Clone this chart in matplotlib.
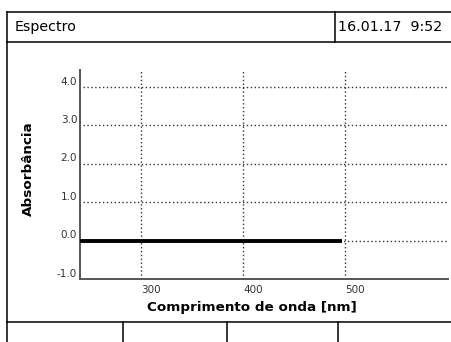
import matplotlib
matplotlib.use('Agg')
import matplotlib.pyplot as plt
from matplotlib.lines import Line2D
from matplotlib.transforms import ScaledTranslation

# data
wavelengths = [240, 497]
absorbance = [0.0, 0.0]
x_ticks = [300, 400, 500]
y_ticks = [-1.0, 0.0, 1.0, 2.0, 3.0, 4.0]
y_tick_labels = ['-1.0', '0.0', '1.0', '2.0', '3.0', '4.0']
title_text = 'Espectro'
date_text = '16.01.17  9:52'
x_label = 'Comprimento de onda [nm]'
y_label = 'Absorbância'

W, H = 451, 342
fig = plt.figure(figsize=(W/100, H/100), dpi=100)

def fx(px):
	return px/W
def fy(py):
	return 1 - py/H

# screen frame
def frame_line(x0, y0, x1, y1):
	fig.add_artist(Line2D([fx(x0), fx(x1)], [fy(y0), fy(y1)], transform=fig.transFigure, color='black', lw=1.1))

frame_line(7, 12, 451, 12)
frame_line(7, 42, 451, 42)
frame_line(7, 12, 7, 342)
frame_line(335, 12, 335, 42)
frame_line(7, 322, 451, 322)
for xb in [123, 227, 338]:
	frame_line(xb, 322, xb, 342)

fig.text(fx(15), fy(27), title_text, fontsize=10.3, va='center', ha='left')
fig.text(fx(338), fy(27), date_text, fontsize=10.3, va='center', ha='left')

ax = fig.add_axes([fx(80), fy(279), fx(448)-fx(80), fy(70)-fy(279)])
ax.set_xlim(240, 601)
ax.set_ylim(-1, 4.44)

for spine in ['top', 'right']:
	ax.spines[spine].set_visible(False)
for spine in ['left', 'bottom']:
	ax.spines[spine].set_color('#555555')
	ax.spines[spine].set_linewidth(1.4)

for yv in y_ticks[1:]:
	ax.axhline(yv, xmin=0.008, color='#333333', lw=1.0, ls=(0, (1, 1.8)), zorder=1)
for xv in x_ticks:
	ax.axvline(xv, color='#333333', lw=1.0, ls=(0, (1, 1.8)), zorder=1)

ax.plot(wavelengths, absorbance, color='black', lw=2.8, solid_capstyle='butt', zorder=3)

ax.set_xticks(x_ticks)
ax.set_xticklabels([str(v) for v in x_ticks])
ax.set_yticks(y_ticks)
ax.set_yticklabels(y_tick_labels)
ax.tick_params(length=0, labelsize=7.5, colors='#333333')
ax.tick_params(axis='y', pad=2)
ax.tick_params(axis='x', pad=4)

for label in ax.get_xticklabels():
	label.set_horizontalalignment('left')
up = ScaledTranslation(0, 4.5/72, fig.dpi_scale_trans)
for label in ax.get_yticklabels():
	label.set_transform(label.get_transform() + up)

fig.text(fx(252), fy(307), x_label, fontsize=9.7, fontweight='bold', ha='center', va='center')
fig.text(fx(28), fy(169), y_label, fontsize=9.7, fontweight='bold', ha='center', va='center', rotation=90)

plt.savefig('out.png', dpi=100)
